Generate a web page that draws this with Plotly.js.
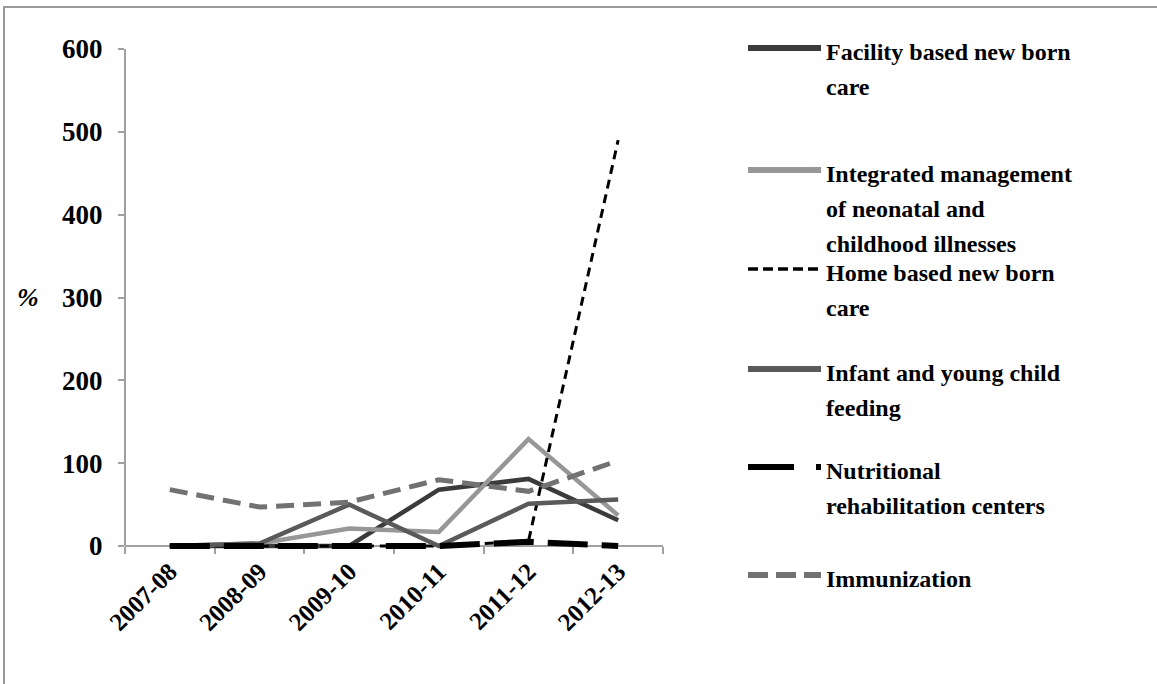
<!DOCTYPE html>
<html>
<head>
<meta charset="utf-8">
<script src="https://cdn.plot.ly/plotly-3.0.1.min.js"></script>
<style>
  html, body { margin: 0; padding: 0; background: #fff; }
  #frame { position: absolute; left: 3px; top: 6px; width: 1160px; height: 690px;
           border-left: 2px solid #9a9a9a; border-top: 2px solid #9a9a9a; }
  #chart { position: absolute; left: 0; top: 0; width: 1157px; height: 684px; }
</style>
</head>
<body>
<div id="frame"></div>
<div id="chart"></div>
<script>
// ---- data ----
const years = ["2007-08", "2008-09", "2009-10", "2010-11", "2011-12", "2012-13"];
const facilityBased = [0, 0, 0, 68, 81, 31];
const imnci = [0, 3, 21, 17, 129, 37];
const homeBased = [0, 0, 0, 0, 6, 490];
const infantFeeding = [0, 3, 50, 0, 51, 56];
const nutritionalRehab = [0, 0, 0, 0, 5, 0];
const immunization = [68, 47, 53, 80, 66, 103];

const seriesNames = [
  "Facility based new born care",
  "Integrated management of neonatal and childhood illnesses",
  "Home based new born care",
  "Infant and young child feeding",
  "Nutritional rehabilitation centers",
  "Immunization"
];
const legendLines = [
  ["Facility based new born", "care"],
  ["Integrated management", "of neonatal and", "childhood illnesses"],
  ["Home based new born", "care"],
  ["Infant and young child", "feeding"],
  ["Nutritional", "rehabilitation centers"],
  ["Immunization"]
];
const yTickVals = [0, 100, 200, 300, 400, 500, 600];

// ---- styles ----
const styles = [
  {color: "#3b3b3b", width: 4.5, dash: "solid", lw: 6, legDash: "solid"},
  {color: "#979797", width: 4.5, dash: "solid", lw: 6, legDash: "solid"},
  {color: "#000000", width: 3, dash: "9px,6px", lw: 3.5, legDash: "10px,5px"},
  {color: "#5a5a5a", width: 4.5, dash: "solid", lw: 6, legDash: "solid"},
  {color: "#000000", width: 6, dash: "40px,14px", lw: 6, legDash: "46px,22px,5px,100px"},
  {color: "#727272", width: 5, dash: "18px,9px", lw: 6, legDash: "20px,8px"}
];
const values = [facilityBased, imnci, homeBased, infantFeeding, nutritionalRehab, immunization];

const traces = values.map((v, i) => ({
  type: "scatter", mode: "lines", x: years, y: v, name: seriesNames[i],
  line: {color: styles[i].color, width: styles[i].width, dash: styles[i].dash},
  showlegend: false, hoverinfo: "skip"
}));

// layout geometry (pixels)
const L = 125, R = 663, T = 49, B0 = 546, B = 552;
const yMin = -600 * (B - B0) / (B0 - T);
const px = x => (x - L) / (R - L);
const py = y => (B - y) / (B - T);

const font = "Liberation Serif";
const legendLineY = [48, 170, 269, 369, 467, 575];
const shapes = [
  // y axis line from 0 to 600
  {type: "line", xref: "paper", yref: "y", x0: 0, x1: 0, y0: 0, y1: 600,
   line: {color: "#a0a0a0", width: 2}}
];
const annotations = [];
legendLines.forEach((lines, i) => {
  const ly = legendLineY[i];
  const st = styles[i];
  shapes.push({type: "line", xref: "paper", yref: "paper",
    x0: px(748), x1: px(821), y0: py(ly), y1: py(ly),
    line: {color: st.color, width: st.lw, dash: st.legDash}});
  lines.forEach((t, j) => {
    annotations.push({xref: "paper", yref: "paper", x: px(824), y: py(ly + 4 + j * 35),
      xanchor: "left", yanchor: "middle", showarrow: false, align: "left",
      text: "<b>" + t + "</b>", font: {family: font, size: 24, color: "#000"}});
  });
});
annotations.push({xref: "paper", yref: "paper", x: px(28), y: py(297), xanchor: "center", yanchor: "middle",
  showarrow: false, text: "<b><i>%</i></b>", font: {family: font, size: 26, color: "#000"}});

const layout = {
  width: 1157, height: 684,
  margin: {l: L, r: 1157 - R, t: T, b: 684 - B},
  paper_bgcolor: "rgba(0,0,0,0)", plot_bgcolor: "rgba(0,0,0,0)",
  showlegend: false,
  xaxis: {
    type: "category", range: [-0.5, 5.5], tickangle: -45,
    anchor: "free", position: (B - B0) / (B - T),
    showline: true, linecolor: "#a0a0a0", linewidth: 2,
    ticks: "outside", tickson: "boundaries", ticklen: 7, tickcolor: "#a0a0a0", tickwidth: 2,
    showgrid: false, zeroline: false, layer: "below traces",
    tickfont: {family: font, size: 25, color: "#000", weight: "bold"}
  },
  yaxis: {
    range: [yMin, 600], tickvals: yTickVals,
    showline: false,
    ticks: "outside", ticklen: 6, tickcolor: "#a0a0a0", tickwidth: 2,
    showgrid: false, zeroline: false, ticklabelstandoff: 10,
    tickfont: {family: font, size: 27, color: "#000", weight: "bold"}
  },
  shapes: shapes,
  annotations: annotations
};

Plotly.newPlot("chart", traces, layout, {staticPlot: true, displayModeBar: false});
</script>
</body>
</html>
